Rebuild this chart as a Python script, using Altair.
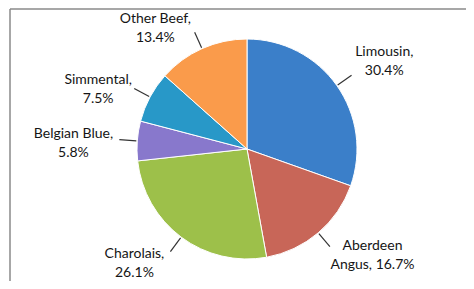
import altair as alt
import pandas as pd
import textwrap

# ---- data ----
categories = ["Limousin", "Aberdeen Angus", "Charolais", "Belgian Blue", "Simmental", "Other Beef"]
shares = [30.4, 16.7, 26.1, 5.8, 7.5, 13.4]
colors = ["#3b7fc9", "#c86658", "#9dc04a", "#8878cc", "#2898c8", "#fa9b4b"]

# ---- layout constants (chart coordinates) ----
W, H = 458, 273
CX, CY, R = 239, 141, 110
RA = 128          # where leader lines end
CHAR_W = 6.6      # approx width of one character at 14px Lato
LH = 19           # line height of labels

labels = ["\n".join(textwrap.wrap(f"{c}, {v:.1f}%", width=13)) for c, v in zip(categories, shares)]
df = pd.DataFrame({
    "category": categories,
    "share": shares,
    "order": list(range(len(categories))),
    "label": labels,
    "chars": [max(len(s) for s in l.split("\n")) for l in labels],
    "nlines": [len(l.split("\n")) for l in labels],
})
total = sum(shares)

base = alt.Chart(df)

pie = base.mark_arc(outerRadius=R, stroke="white", strokeWidth=1).encode(
    theta=alt.Theta("share:Q", stack=True),
    color=alt.Color("category:N", scale=alt.Scale(domain=categories, range=colors), legend=None),
    order=alt.Order("order:Q"),
    x=alt.value(CX),
    y=alt.value(CY),
)

geo = base.transform_window(
    cum="sum(share)", sort=[alt.SortField("order")], frame=[None, 0]
).transform_calculate(
    a=f"2*PI*(datum.cum - datum.share/2)/{total}"
).transform_calculate(
    x0=f"{CX} + {R + 1}*sin(datum.a)",
    y0=f"{CY} - {R + 1}*cos(datum.a)",
    ax=f"{CX} + {RA}*sin(datum.a)",
    ay=f"{CY} - {RA}*cos(datum.a)",
    right="sin(datum.a) >= 0",
).transform_calculate(
    tx=f"datum.ax + (datum.right ? 1 : -1) * (datum.chars*{CHAR_W}/2 + 3)",
    ty=(f"datum.ay + (datum.right ? (-4 - 17*cos(datum.a)) : (5 - 9*cos(datum.a)))"
        f" - (datum.nlines - 1)*{LH}/2"),
)

leaders = geo.mark_rule(color="#333333", strokeWidth=1.2).encode(
    x=alt.X("x0:Q", scale=None),
    y=alt.Y("y0:Q", scale=None),
    x2="ax:Q",
    y2="ay:Q",
)

texts = geo.mark_text(
    font="Lato", fontSize=14, color="#151515", align="center", baseline="middle",
    lineBreak="\n", lineHeight=LH,
).encode(
    x=alt.X("tx:Q", scale=None),
    y=alt.Y("ty:Q", scale=None),
    text="label:N",
)

one = pd.DataFrame({"k": [0]})
frame_top = alt.Chart(one).mark_rule(color="#8a8a8a", strokeWidth=1.5).encode(
    x=alt.value(2), x2=alt.value(W), y=alt.value(1)
)
frame_left = alt.Chart(one).mark_rule(color="#8a8a8a", strokeWidth=1.5).encode(
    x=alt.value(2), y=alt.value(1), y2=alt.value(H)
)

chart = alt.layer(frame_top, frame_left, pie, leaders, texts).properties(
    width=W, height=H, autosize=alt.AutoSizeParams(type="none"), padding=0
).configure_view(stroke=None)

chart.save("out.html", embed_options={"renderer": "svg", "actions": False})
